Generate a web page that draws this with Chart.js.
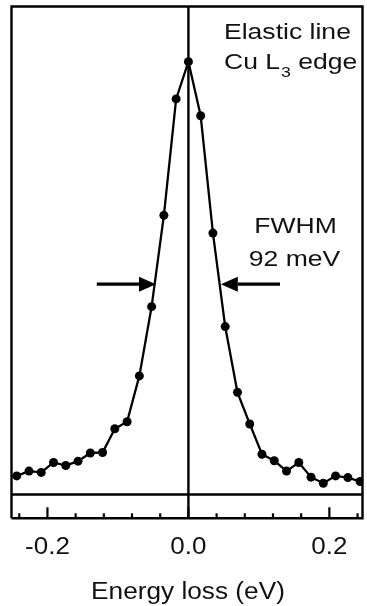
<!DOCTYPE html>
<html>
<head>
<meta charset="utf-8">
<script src="https://cdn.jsdelivr.net/npm/chart.js@4/dist/chart.umd.min.js"></script>
<style>
  html, body { margin: 0; padding: 0; background: #fff; }
  #grafico { display: block; }
</style>
</head>
<body>
<canvas id="grafico" width="367" height="606"></canvas>
<script>
// energia (eV) y su intensidad normalizada al pico
const energia = [
    -0.2436, -0.2262, -0.2088, -0.1914, -0.1740, -0.1566, -0.1392, -0.1218, -0.1044, -0.0870,
    -0.0696, -0.0522, -0.0348, -0.0174, 0.0, 0.0174, 0.0348, 0.0522, 0.0696, 0.0870,
    0.1044, 0.1218, 0.1392, 0.1566, 0.1740, 0.1914, 0.2088, 0.2262, 0.2436
];
const intensidad = [
    0.043, 0.054, 0.051, 0.074, 0.067, 0.077, 0.096, 0.097, 0.152, 0.168,
    0.274, 0.434, 0.645, 0.914, 1.0, 0.875, 0.604, 0.388, 0.236, 0.163,
    0.093, 0.078, 0.054, 0.074, 0.040, 0.026, 0.043, 0.039, 0.030
];

// marcas del eje x
const ticksX = [-0.24, -0.2, -0.16, -0.12, -0.08, -0.04, 0, 0.04, 0.08, 0.12, 0.16, 0.2, 0.24];
const ticksMayores = [-0.2, 0, 0.2];
const etiquetasX = ['-0.2', '0.0', '0.2'];

// flechas del FWHM (92 meV)
const flechaCola = [-0.13, 0.13];
const flechaPunta = [-0.046, 0.046];
const nivelFlecha = 0.486;

const FUENTE = '"Liberation Sans", Arial, sans-serif';

function texto(ctx, t, x, y, size, sx, align){
    ctx.save();
    ctx.font = size + 'px ' + FUENTE;
    ctx.textAlign = align || 'left';
    ctx.textBaseline = 'alphabetic';
    ctx.translate(x, y);
    ctx.scale(sx, 1);
    ctx.fillText(t, 0, 0);
    const w = ctx.measureText(t).width * sx;
    ctx.restore();
    return w;
}

const marco = {
    id: 'marco',
    beforeDatasetsDraw(chart){
        const ctx = chart.ctx;
        const a = chart.chartArea;
        const x = chart.scales.x;
        const y = chart.scales.y;
        ctx.save();
        ctx.strokeStyle = '#000';
        ctx.lineWidth = 2.4;
        // recuadro
        ctx.beginPath();
        ctx.moveTo(a.left, a.bottom);
        ctx.lineTo(a.left, a.top);
        ctx.lineTo(a.right, a.top);
        ctx.lineTo(a.right, a.bottom);
        ctx.lineTo(a.left, a.bottom);
        ctx.stroke();
        // linea base y linea en cero
        const y0 = y.getPixelForValue(0);
        const x0 = x.getPixelForValue(0);
        ctx.beginPath();
        ctx.moveTo(a.left, y0);
        ctx.lineTo(a.right, y0);
        ctx.moveTo(x0, a.top);
        ctx.lineTo(x0, a.bottom);
        ctx.stroke();
        // marcas hacia adentro
        ctx.lineWidth = 2.2;
        ticksX.forEach(function(v){
            const px = x.getPixelForValue(v);
            const largo = ticksMayores.some(m => Math.abs(m - v) < 1e-6) ? 11 : 5;
            ctx.beginPath();
            ctx.moveTo(px, a.bottom);
            ctx.lineTo(px, a.bottom - largo);
            ctx.stroke();
        });
        ctx.restore();
    },
    afterDatasetsDraw(chart){
        const ctx = chart.ctx;
        const a = chart.chartArea;
        const x = chart.scales.x;
        const y = chart.scales.y;
        ctx.save();
        ctx.fillStyle = '#000';
        ctx.strokeStyle = '#000';

        // flechas
        const py = y.getPixelForValue(nivelFlecha);
        for(let i = 0; i < flechaCola.length; i++){
            const cola = x.getPixelForValue(flechaCola[i]);
            const punta = x.getPixelForValue(flechaPunta[i]);
            const dir = punta > cola ? 1 : -1;
            const base = punta - dir * 17;
            ctx.lineWidth = 3.2;
            ctx.beginPath();
            ctx.moveTo(cola, py);
            ctx.lineTo(base, py);
            ctx.stroke();
            ctx.beginPath();
            ctx.moveTo(punta, py);
            ctx.lineTo(base, py - 7.5);
            ctx.lineTo(base, py + 7.5);
            ctx.closePath();
            ctx.fill();
        }

        // textos
        ctx.fillStyle = '#111';
        texto(ctx, 'Elastic line', 224, 39, 22.5, 1.18);
        let cx = 224;
        cx += texto(ctx, 'Cu L', cx, 69, 22.5, 1.18);
        cx += texto(ctx, '3', cx + 1, 77, 15, 1.18) + 1;
        texto(ctx, ' edge', cx, 69, 22.5, 1.18);

        texto(ctx, 'FWHM', 295.5, 233, 22.5, 1.18, 'center');
        texto(ctx, '92 meV', 294.5, 265.5, 22.5, 1.18, 'center');

        // etiquetas del eje x
        ticksMayores.forEach(function(v, i){
            texto(ctx, etiquetasX[i], x.getPixelForValue(v), 554, 23, 1.13, 'center');
        });
        texto(ctx, 'Energy loss (eV)', (a.left + a.right) / 2 + 1, 599, 23, 1.14, 'center');
        ctx.restore();
    }
};

const ctx_g = document.getElementById('grafico');
const puntos = energia.map((e, i) => ({x: e, y: intensidad[i]}));

new Chart(ctx_g, {
    type: 'scatter',
    data: {
        datasets: [{
            data: puntos,
            showLine: true,
            borderColor: '#000',
            borderWidth: 2.3,
            pointRadius: 4.5,
            pointBackgroundColor: '#000',
            pointBorderWidth: 0,
            tension: 0
        }]
    },
    options: {
        responsive: false,
        animation: false,
        devicePixelRatio: 1,
        layout: { padding: { left: 11.5, right: 1.5, top: 6.5, bottom: 87.7 } },
        plugins: { legend: { display: false }, tooltip: { enabled: false } },
        scales: {
            x: { type: 'linear', display: false, min: -0.251, max: 0.247 },
            y: { type: 'linear', display: false, min: -0.055, max: 1.1275 }
        }
    },
    plugins: [marco]
});
</script>
</body>
</html>
